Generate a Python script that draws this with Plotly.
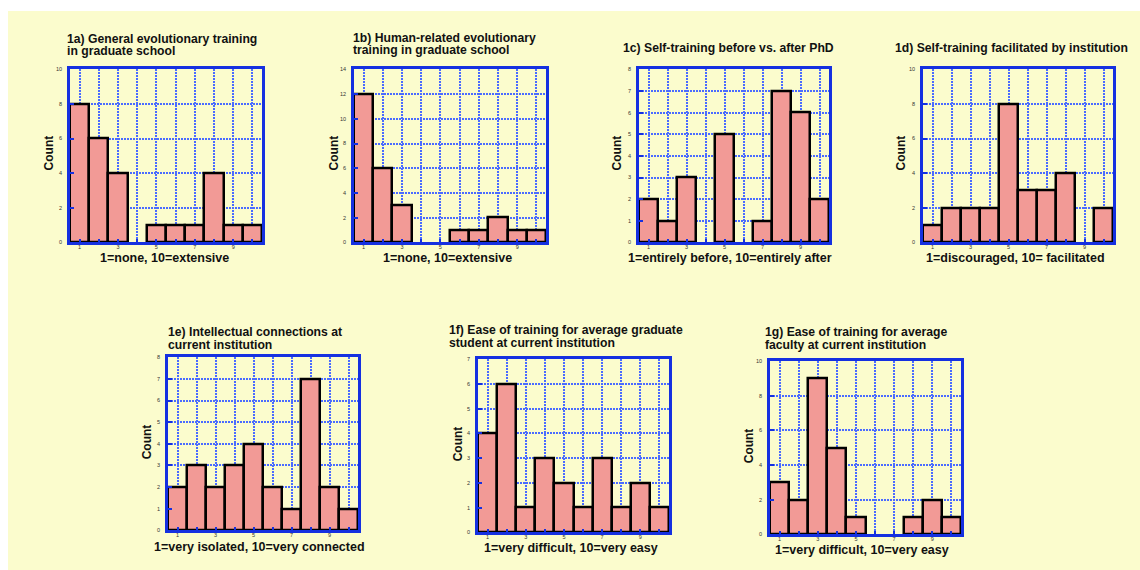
import plotly.graph_objects as go

# Survey response histograms (scores 1..10)
scores = list(range(1, 11))

counts_1a = [8, 6, 4, 0, 1, 1, 1, 4, 1, 1]
counts_1b = [12, 6, 3, 0, 0, 1, 1, 2, 1, 1]
counts_1c = [2, 1, 3, 0, 5, 0, 1, 7, 6, 2]
counts_1d = [1, 2, 2, 2, 8, 3, 3, 4, 0, 2]
counts_1e = [2, 3, 2, 3, 4, 2, 1, 7, 2, 1]
counts_1f = [4, 6, 1, 3, 2, 1, 3, 1, 2, 1]
counts_1g = [3, 2, 9, 5, 1, 0, 0, 1, 2, 1]

titles = [
    ["1a) General evolutionary training", "in graduate school"],
    ["1b) Human-related evolutionary", "training in graduate school"],
    ["1c) Self-training before vs. after PhD"],
    ["1d) Self-training facilitated by institution"],
    ["1e) Intellectual connections at", "current institution"],
    ["1f) Ease of training for average graduate", "student at current institution"],
    ["1g) Ease of training for average", "faculty at current institution"],
]
x_labels = [
    "1=none, 10=extensive",
    "1=none, 10=extensive",
    "1=entirely before, 10=entirely after",
    "1=discouraged, 10= facilitated",
    "1=very isolated, 10=very connected",
    "1=very difficult, 10=very easy",
    "1=very difficult, 10=very easy",
]
y_max = [10, 14, 8, 10, 8, 7, 10]
y_step = [2, 2, 1, 2, 1, 1, 2]
all_counts = [counts_1a, counts_1b, counts_1c, counts_1d, counts_1e, counts_1f, counts_1g]

W, H = 1140, 570
# pixel layout per panel: frame (left, right, top, bottom), title left, title line ys,
# x-label centre, y-label centre
frames = [
    (70, 262, 67, 242),
    (354, 546, 67, 242),
    (639, 829, 67, 242),
    (923, 1113, 67, 242),
    (168, 358, 358, 533),
    (478, 669, 360, 535),
    (770, 961, 362, 537),
]
title_pos = [
    (65, [36, 49]),
    (351, [35, 48]),
    (621, [45.5]),
    (893, [45.5]),
    (166, [332.5, 345.5]),
    (447, [330.5, 343.5]),
    (763, [333, 346]),
]
xlab_pos = [(164, 258), (447, 258), (730, 258), (1015, 258),
            (259, 549.5), (571, 550.5), (862, 552.5)]
ylab_pos = [(49, 152), (334, 152), (617, 152), (901, 152),
            (147, 444), (458, 446), (749, 448)]

BG = "#FBFCCD"
FRAME = "#1530E0"
GRID = "#4A6BFF"
FILL = "#F29A96"
FONT = "Liberation Sans, Arial, sans-serif"

fig = go.Figure()
annotations = []

for i, counts in enumerate(all_counts):
    n = i + 1
    xa = "x" if n == 1 else f"x{n}"
    ya = "y" if n == 1 else f"y{n}"
    left, right, top, bottom = frames[i]
    fig.add_trace(go.Bar(
        x=scores,
        y=[c if c else None for c in counts],
        width=1,
        marker=dict(color=FILL, line=dict(color="black", width=2.5)),
        xaxis=xa, yaxis=ya, showlegend=False, hoverinfo="x+y",
    ))
    ax_common = dict(
        showline=True, mirror=True, linecolor=FRAME, linewidth=2.5,
        showgrid=True, gridcolor=GRID, gridwidth=2, griddash="1.5px,1.5px",
        ticks="inside", ticklen=4, tickwidth=1.5, tickcolor=FRAME,
        tickfont=dict(family=FONT, size=5.5, color="#333333"),
        zeroline=False, fixedrange=True,
    )
    fig.layout[f"xaxis{'' if n == 1 else n}"] = dict(
        ax_common,
        domain=[left / W, right / W],
        range=[0.5, 10.5],
        tickvals=scores,
        ticktext=[str(s) if s % 2 else "" for s in scores],
        ticklabelstandoff=-3,
        anchor=ya,
    )
    fig.layout[f"yaxis{'' if n == 1 else n}"] = dict(
        ax_common,
        domain=[1 - bottom / H, 1 - top / H],
        range=[0, y_max[i]],
        dtick=y_step[i],
        ticklabelstandoff=4,
        anchor=xa,
    )

    tx, tys = title_pos[i]
    for line, ty in zip(titles[i], tys):
        annotations.append(dict(
            text=f"<b>{line}</b>", x=tx / W, y=1 - ty / H, xref="paper", yref="paper",
            xanchor="left", yanchor="middle", showarrow=False,
            font=dict(family=FONT, size=12.2, color="#111111"),
        ))
    lx, ly = xlab_pos[i]
    annotations.append(dict(
        text=f"<b>{x_labels[i]}</b>", x=lx / W, y=1 - ly / H, xref="paper", yref="paper",
        xanchor="center", yanchor="middle", showarrow=False,
        font=dict(family=FONT, size=12.5, color="#111111"),
    ))
    cx, cy = ylab_pos[i]
    annotations.append(dict(
        text="<b>Count</b>", x=cx / W, y=1 - cy / H, xref="paper", yref="paper",
        xanchor="center", yanchor="middle", showarrow=False, textangle=-90,
        font=dict(family=FONT, size=12, color="#111111"),
    ))

fig.update_layout(
    width=W, height=H,
    margin=dict(l=0, r=0, t=0, b=0),
    paper_bgcolor="white",
    plot_bgcolor=BG,
    bargap=0,
    annotations=annotations,
    shapes=[dict(type="rect", xref="paper", yref="paper",
                 x0=8 / W, x1=1.02, y0=-0.02, y1=1 - 8 / H,
                 fillcolor=BG, line=dict(width=0), layer="below")],
)

fig.write_html("out.html")
